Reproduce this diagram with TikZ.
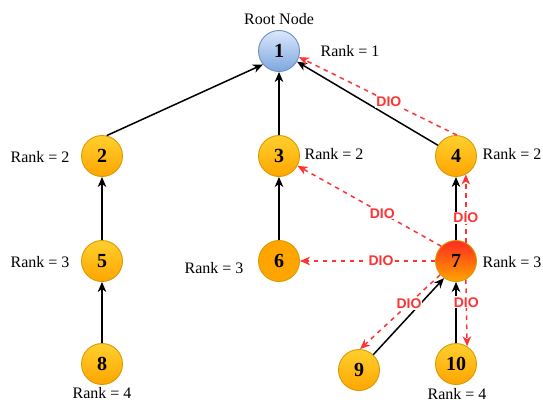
\documentclass[tikz,border=0pt]{standalone}
\usepackage{fontspec}
\setmainfont{Liberation Serif}
\newfontfamily\diofont{Liberation Sans}
\usetikzlibrary{arrows.meta}

\definecolor{dioRed}{HTML}{FF3333}
\definecolor{orangeTop}{HTML}{FFD02E}
\definecolor{orangeBot}{HTML}{FFA500}
\definecolor{orangeLine}{HTML}{D79B00}
\definecolor{blueTop}{HTML}{DAE8FC}
\definecolor{blueBot}{HTML}{7EA6E0}
\definecolor{blueLine}{HTML}{6C8EBF}
\definecolor{redTop}{HTML}{FF2A1F}

\tikzset{
  rpl/.style={circle, minimum size=41pt, inner sep=0pt, line width=0.9pt,
    font=\fontsize{20}{24}\selectfont\bfseries},
  rnode/.style={rpl, draw=orangeLine, top color=orangeTop, bottom color=orangeBot},
  rflat/.style={rpl, draw=orangeLine, fill=orangeBot},
  rroot/.style={rpl, draw=blueLine, top color=blueTop, bottom color=blueBot},
  rhot/.style={rpl, draw=orangeLine, top color=redTop, bottom color=orangeBot},
  lbl/.style={font=\fontsize{16}{19}\selectfont, inner sep=0pt},
  tip/.style={-{Stealth[length=10pt, width=8.5pt, inset=3pt]}},
  parent/.style={tip, line width=1.5pt, black},
  dio/.style={tip, line width=1.5pt, dioRed, dash pattern=on 4.5pt off 4.5pt},
  diotag/.style={font=\diofont\fontsize{14}{16}\selectfont\bfseries, text=dioRed,
    fill=white, inner sep=1pt}
}

\begin{document}
\begin{tikzpicture}[x=1pt, y=-1pt]
\useasboundingbox (0,0) rectangle (543,402);

% nodes of the DODAG
\node[rroot] (n1) at (279,51) {1};
\node[rnode] (n2) at (102,156) {2};
\node[rnode] (n3) at (279,156) {3};
\node[rnode] (n4) at (456,156) {4};
\node[rnode] (n5) at (102,261) {5};
\node[rflat] (n6) at (279,261) {6};
\node[rhot]  (n7) at (456,261) {7};
\node[rnode] (n8) at (102,364) {8};
\node[rnode] (n9) at (359,370) {9};
\node[rnode] (n10) at (456,364) {10};

% labels
\node[lbl] (troot) at (279,19) {Root Node};
\node[lbl] (r1) at (350,51) {Rank = 1};
\node[lbl] (r2a) at (40,157) {Rank = 2};
\node[lbl] (r2b) at (334,154) {Rank = 2};
\node[lbl] (r2c) at (512,154) {Rank = 2};
\node[lbl] (r3a) at (40,262) {Rank = 3};
\node[lbl] (r3b) at (214,268) {Rank = 3};
\node[lbl] (r3c) at (512,262) {Rank = 3};
\node[lbl] (r4a) at (102,393) {Rank = 4};
\node[lbl] (r4b) at (457,394) {Rank = 4};

% preferred parent links
\draw[parent] (n2.77) -- (n1.220);
\draw[parent] (n3) -- (n1);
\draw[parent] (n4) -- (n1);
\draw[parent] (n5) -- (n2);
\draw[parent] (n6) -- (n3);
\draw[parent] (n7) -- (n4);
\draw[parent] (n8) -- (n5);
\draw[parent] (n9.47) -- (n7.235);
\draw[parent] (n10) -- (n7);

% DIO messages
\draw[dio] (n4.88) -- node[diotag, pos=0.43] {DIO} (n1.343);
\draw[dio] (n7.135) -- node[diotag, pos=0.41] {DIO} (n3.332);
\draw[dio] (n7.west) -- node[diotag, pos=0.4] {DIO} (n6.east);
\draw[dio] (n7.62) -- node[diotag, pos=0.36] {DIO} (n4.298);
\draw[dio] (n7.298) -- node[diotag, pos=0.34] {DIO} (n10.58);
\draw[dio] (n7.221) -- node[diotag, pos=0.39] {DIO} (n9.87);
\end{tikzpicture}
\end{document}
